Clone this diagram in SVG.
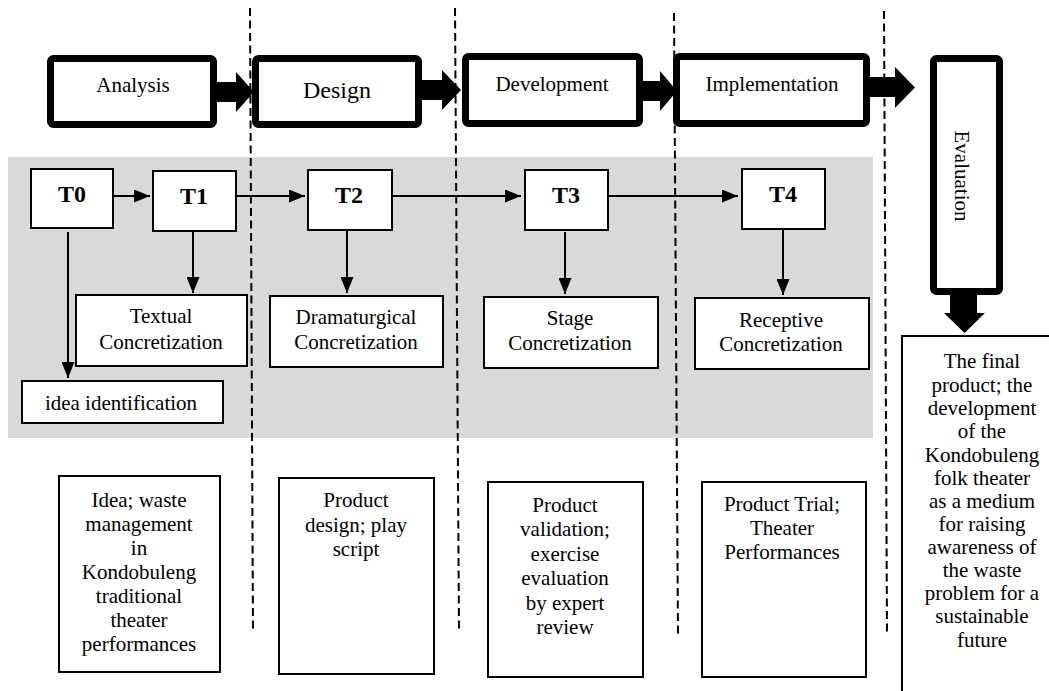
<svg xmlns="http://www.w3.org/2000/svg" width="1049" height="691" viewBox="0 0 1049 691">
<style>
text{font-family:"Liberation Serif","Times New Roman",serif;fill:#000;font-size:21px;text-anchor:middle}
.phase{fill:#fff;stroke:#000;stroke-width:7}
.box{fill:#fff;stroke:#000;stroke-width:2}
.tl{font-weight:bold;font-size:24px}
.conn{stroke:#000;stroke-width:2;fill:none}
.dash{stroke:#000;stroke-width:2;stroke-dasharray:8 4.5;fill:none}
.block{fill:#000}
</style>
<defs>
<marker id="ah" viewBox="0 0 16 13" refX="16" refY="6.5" markerWidth="16" markerHeight="13" markerUnits="userSpaceOnUse" orient="auto">
<path d="M0,0 L16,6.5 L0,13 Z" fill="#000"/>
</marker>
</defs>
<rect id="background-band" x="8" y="157" width="865" height="281" fill="#d9d9d9"/>
<g id="separators">
<line class="dash" x1="250" y1="8" x2="253" y2="632"/>
<line class="dash" x1="455" y1="8" x2="459" y2="632"/>
<line class="dash" x1="674" y1="13" x2="678" y2="637"/>
<line class="dash" x1="884" y1="11" x2="887" y2="633"/>
</g>
<g id="connectors">
<polygon class="block" points="217,82 236,82 236,72 254,92 236,112 236,102 217,102"/>
<polygon class="block" points="422,80 442,80 442,70 461,90 442,110 442,100 422,100"/>
<polygon class="block" points="643,81 660,81 660,71 677,91 660,111 660,101 643,101"/>
<polygon class="block" points="870,77 895,77 895,67 915,87.5 895,108 895,97 870,97"/>
<polygon class="block" points="950,295 977,295 977,313 985,313 964.5,333 944,313 950,313"/>
<line class="conn" x1="113" y1="196" x2="150" y2="196" marker-end="url(#ah)"/>
<line class="conn" x1="236" y1="196" x2="305" y2="196" marker-end="url(#ah)"/>
<line class="conn" x1="392" y1="196" x2="521" y2="196" marker-end="url(#ah)"/>
<line class="conn" x1="608" y1="196" x2="738" y2="196" marker-end="url(#ah)"/>
<line class="conn" x1="68" y1="232" x2="68" y2="378" marker-end="url(#ah)"/>
<line class="conn" x1="193" y1="232" x2="193" y2="293" marker-end="url(#ah)"/>
<line class="conn" x1="347" y1="231" x2="347" y2="293" marker-end="url(#ah)"/>
<line class="conn" x1="565" y1="232" x2="565" y2="294" marker-end="url(#ah)"/>
<line class="conn" x1="783" y1="230" x2="783" y2="295" marker-end="url(#ah)"/>
</g>
<g id="analysis"><rect class="phase" x="50.5" y="58.5" width="163" height="66" rx="3"/><text x="133" y="92">Analysis</text></g>
<g id="design"><rect class="phase" x="255.5" y="58.5" width="163" height="66" rx="3"/><text x="337" y="98" style="font-size:24px">Design</text></g>
<g id="development"><rect class="phase" x="465.5" y="56.5" width="174" height="67" rx="3"/><text x="552" y="91">Development</text></g>
<g id="implementation"><rect class="phase" x="676.5" y="56.5" width="190" height="67" rx="3"/><text x="772" y="91">Implementation</text></g>
<g id="evaluation"><rect class="phase" x="933.5" y="58.5" width="66" height="233" rx="3"/><text transform="translate(962,176) rotate(90)" x="0" y="7">Evaluation</text></g>
<g id="t0"><rect class="box" x="31" y="169" width="82" height="59"/><text class="tl" x="72" y="202">T0</text></g>
<g id="t1"><rect class="box" x="153" y="171" width="83" height="60"/><text class="tl" x="194" y="204">T1</text></g>
<g id="t2"><rect class="box" x="308" y="170" width="84" height="60"/><text class="tl" x="349" y="203">T2</text></g>
<g id="t3"><rect class="box" x="525" y="170" width="83" height="60"/><text class="tl" x="566" y="203">T3</text></g>
<g id="t4"><rect class="box" x="742" y="169" width="83" height="60"/><text class="tl" x="783" y="202">T4</text></g>
<g id="textual"><rect class="box" x="76" y="295" width="171" height="71"/><text x="161" y="323">Textual</text><text x="161" y="349">Concretization</text></g>
<g id="idea-identification"><rect class="box" x="22" y="381" width="201" height="42"/><text x="121" y="410">idea identification</text></g>
<g id="dramaturgical"><rect class="box" x="270" y="296" width="173" height="71"/><text x="356" y="324">Dramaturgical</text><text x="356" y="349">Concretization</text></g>
<g id="stage"><rect class="box" x="484" y="297" width="174" height="71"/><text x="570" y="325">Stage</text><text x="570" y="350">Concretization</text></g>
<g id="receptive"><rect class="box" x="695" y="298" width="174" height="71"/><text x="781" y="327">Receptive</text><text x="781" y="351">Concretization</text></g>
<g id="idea-output"><rect class="box" x="59" y="476" width="161" height="196"/>
<text x="139" y="507">Idea; waste</text><text x="139" y="531">management</text><text x="139" y="555">in</text><text x="139" y="579">Kondobuleng</text><text x="139" y="603">traditional</text><text x="139" y="627">theater</text><text x="139" y="651">performances</text></g>
<g id="design-output"><rect class="box" x="279" y="478" width="155" height="196"/>
<text x="356" y="507">Product</text><text x="356" y="532">design; play</text><text x="356" y="556">script</text></g>
<g id="development-output"><rect class="box" x="488" y="482" width="155" height="195"/>
<text x="565" y="512">Product</text><text x="565" y="536">validation;</text><text x="565" y="561">exercise</text><text x="565" y="585">evaluation</text><text x="565" y="610">by expert</text><text x="565" y="634">review</text></g>
<g id="implementation-output"><rect class="box" x="702" y="482" width="164" height="195"/>
<text x="782" y="511">Product Trial;</text><text x="782" y="535">Theater</text><text x="782" y="559">Performances</text></g>
<g id="final-product"><rect class="box" x="902" y="336" width="160" height="365"/>
<text x="982" y="368">The final</text><text x="982" y="392">product; the</text><text x="982" y="415">development</text><text x="982" y="438">of the</text><text x="982" y="462">Kondobuleng</text><text x="982" y="485">folk theater</text><text x="982" y="508">as a medium</text><text x="982" y="531">for raising</text><text x="982" y="554">awareness of</text><text x="982" y="577">the waste</text><text x="982" y="600">problem for a</text><text x="982" y="623">sustainable</text><text x="982" y="647">future</text></g>
</svg>
